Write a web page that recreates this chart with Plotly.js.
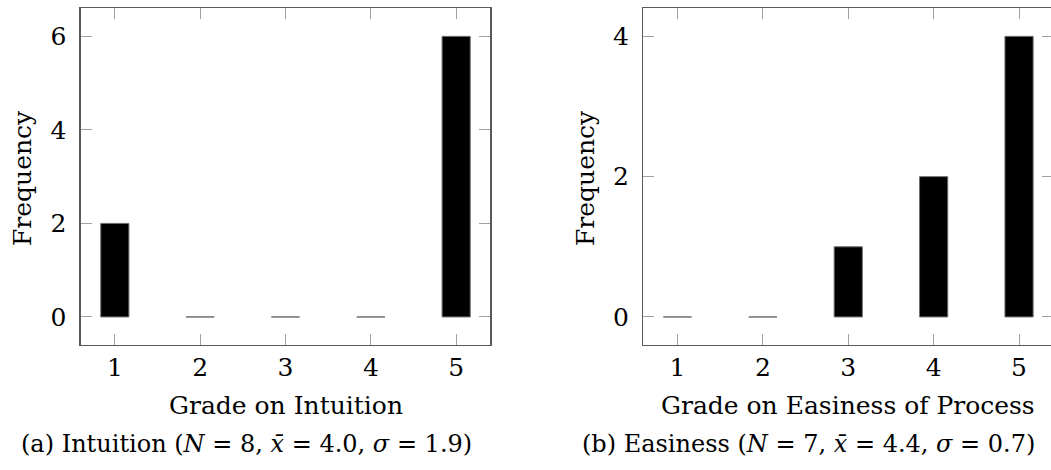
<!DOCTYPE html>
<html>
<head>
<meta charset="utf-8">
<script src="https://cdn.plot.ly/plotly-3.0.1.min.js"></script>
<style>
html,body{margin:0;padding:0;overflow:hidden;background:#fff;width:1051px;height:470px;}
#chart{width:1056px;height:470px;}
#chart svg text{font-family:'DejaVu Serif', serif !important;}
</style>
</head>
<body>
<div id="chart"></div>
<script>
const grades = [1, 2, 3, 4, 5];
const intuitionFreq = [2, 0, 0, 0, 6];
const easinessFreq = [0, 0, 1, 2, 4];
const leftXTitle = "Grade on Intuition";
const rightXTitle = "Grade on Easiness of Process";
const yTitle = "Frequency";
const leftCaption = "(a) Intuition (<i>N</i> = 8, <i>x̄</i> = 4.0, <i>σ</i> = 1.9)";
const rightCaption = "(b) Easiness (<i>N</i> = 7, <i>x̄</i> = 4.4, <i>σ</i> = 0.7)";

const W = 1056, H = 470;
const FONT = "DejaVu Serif";
const FS = 25;
const CAP_FS = 24;

function px(x){ return x / W; }
function py(y){ return 1 - y / H; }

const barStyle = {
  type: 'bar',
  width: 0.33,
  marker: {color: '#000000', line: {color: '#6e6e6e', width: 1}},
  showlegend: false,
  hoverinfo: 'x+y'
};

const traces = [
  Object.assign({}, barStyle, {x: grades, y: intuitionFreq, xaxis: 'x', yaxis: 'y'}),
  Object.assign({}, barStyle, {x: grades, y: easinessFreq, xaxis: 'x2', yaxis: 'y2'})
];

const axisCommon = {
  showline: true, linecolor: '#5a5a5a', linewidth: 1.3, mirror: 'all',
  ticks: 'inside', ticklen: 11, tickcolor: '#a0a0a0', tickwidth: 1,
  showgrid: false, zeroline: false,
  tickfont: {family: FONT, size: FS, color: '#000'},
  fixedrange: true
};

const yDom = [py(345), py(8.3)];

const layout = {
  width: W, height: H,
  margin: {l: 0, r: 0, t: 0, b: 0},
  paper_bgcolor: '#fff', plot_bgcolor: '#fff',
  font: {family: FONT, size: FS, color: '#000'},
  xaxis: Object.assign({}, axisCommon, {domain: [px(80.7), px(490.3)], range: [0.6, 5.4], tickvals: grades, ticklabelstandoff: 0, anchor: 'y'}),
  yaxis: Object.assign({}, axisCommon, {domain: yDom, range: [-0.6, 6.6], tickvals: [0, 2, 4, 6], ticklabelstandoff: 8, anchor: 'x'}),
  xaxis2: Object.assign({}, axisCommon, {domain: [px(643.3), px(1053.2)], range: [0.6, 5.4], tickvals: grades, ticklabelstandoff: 0, anchor: 'y2'}),
  yaxis2: Object.assign({}, axisCommon, {domain: yDom, range: [-0.4, 4.4], tickvals: [0, 2, 4], ticklabelstandoff: 8, anchor: 'x2'}),
  annotations: [
    {text: leftXTitle, x: px(285.5), y: py(405), xref: 'paper', yref: 'paper', xanchor: 'center', yanchor: 'middle', showarrow: false, font: {family: FONT, size: FS}},
    {text: rightXTitle, x: px(848), y: py(405), xref: 'paper', yref: 'paper', xanchor: 'center', yanchor: 'middle', showarrow: false, font: {family: FONT, size: FS}},
    {text: yTitle, x: px(22), y: py(178), xref: 'paper', yref: 'paper', xanchor: 'center', yanchor: 'middle', textangle: -90, showarrow: false, font: {family: FONT, size: FS}},
    {text: yTitle, x: px(585), y: py(178), xref: 'paper', yref: 'paper', xanchor: 'center', yanchor: 'middle', textangle: -90, showarrow: false, font: {family: FONT, size: FS}},
    {text: leftCaption, x: px(246), y: py(444), xref: 'paper', yref: 'paper', xanchor: 'center', yanchor: 'middle', showarrow: false, font: {family: FONT, size: CAP_FS}},
    {text: rightCaption, x: px(808), y: py(444), xref: 'paper', yref: 'paper', xanchor: 'center', yanchor: 'middle', showarrow: false, font: {family: FONT, size: CAP_FS}}
  ]
};

Plotly.newPlot('chart', traces, layout, {displayModeBar: false, staticPlot: true});
</script>
</body>
</html>
